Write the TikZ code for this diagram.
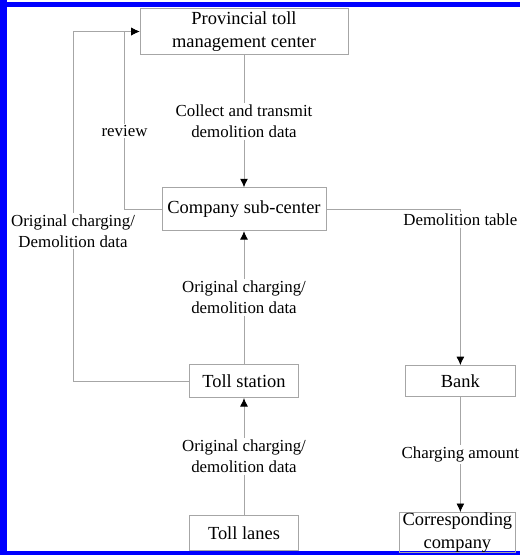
\documentclass[tikz,border=0pt]{standalone}
\usepackage{fontspec}
\setmainfont{Liberation Serif}
\usepackage{tikz}
\usetikzlibrary{arrows.meta,positioning}

\begin{document}
\begin{tikzpicture}[
  font=\fontsize{10.5}{13}\selectfont,
  box/.style={draw=gray!70, line width=0.5pt, align=center, inner sep=2pt},
  lbl/.style={fill=white, align=center, inner sep=1pt, font=\fontsize{9.6}{12}\selectfont},
  link/.style={draw=gray!70, line width=0.5pt},
  arrow/.style={link, -{Latex[length=1.7mm, width=1.6mm, color=black]}}
]
% frame
\useasboundingbox (0,0) rectangle (10.4,-11.1);
\fill[blue] (0,-0.04) rectangle (10.4,-0.14);
\fill[blue] (0,0) rectangle (0.14,-11.1);
\fill[blue] (0,-11.02) rectangle (10.4,-11.1);

\node[box, minimum width=4.16cm, minimum height=0.86cm] (prov) at (4.88,-0.63) {Provincial toll\\management center};
\node[box, minimum width=3.28cm, minimum height=0.86cm, below=2.64cm of prov] (comp) {Company sub-center};
\node[box, minimum width=2.18cm, minimum height=0.66cm, below=2.66cm of comp] (station) {Toll station};
\node[box, minimum width=2.18cm, minimum height=0.7cm, below=2.34cm of station] (lanes) {Toll lanes};
\node[box, minimum width=2.2cm, minimum height=0.62cm, right=2.12cm of station] (bank) {Bank};
\node[box, minimum width=2.28cm, minimum height=0.72cm, inner ysep=0pt, below=2.3cm of bank, xshift=-0.06cm] (corr) {Corresponding\\company};

\draw[arrow] (prov) -- node[lbl] {Collect and transmit\\demolition data} (comp);
\draw[arrow] (comp.west) -- ++(-0.74,0) |- node[lbl, pos=0.22] {review} (prov.west);
\draw[arrow] (station.west) -- ++(-2.32,0) |- node[lbl, pos=0.215] {Original charging/\\Demolition data} (prov.west);
\draw[arrow] (station) -- node[lbl] {Original charging/\\demolition data} (comp);
\draw[arrow] (lanes) -- node[lbl] {Original charging/\\demolition data} (station);
\draw[arrow] (comp.east) -| node[lbl, pos=0.535] {Demolition table} (bank.north);
\draw[arrow] (bank) -- node[lbl] {Charging amount} (bank |- corr.north);
\end{tikzpicture}
\end{document}
